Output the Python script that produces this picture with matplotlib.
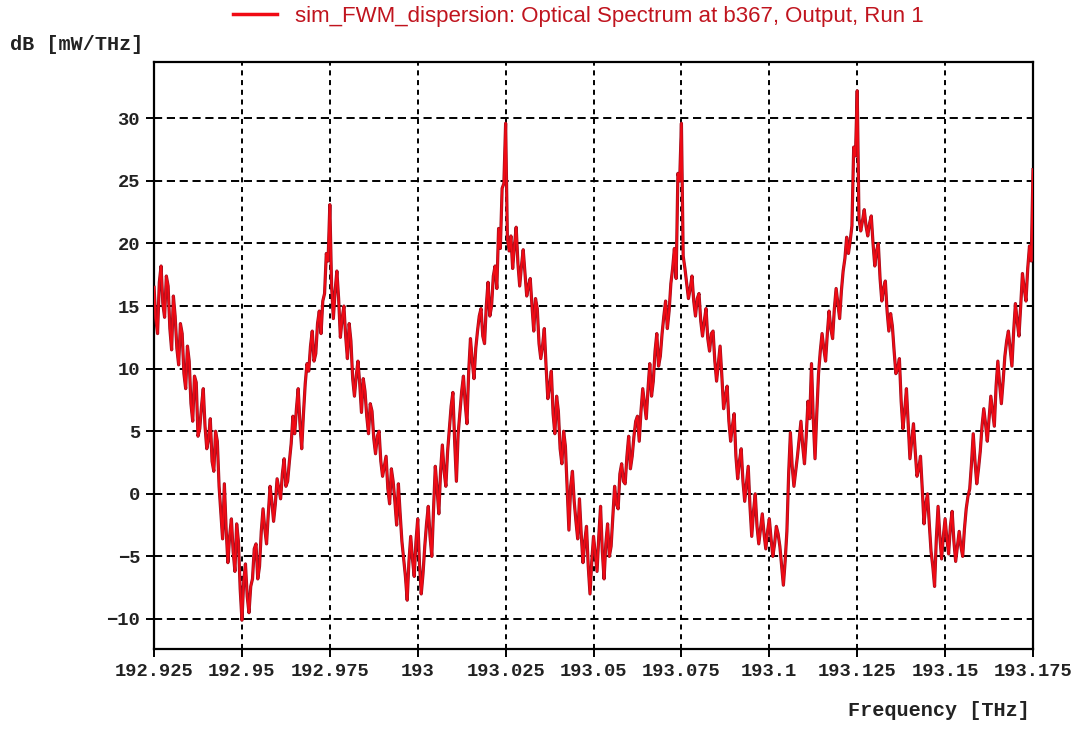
import numpy as np
import matplotlib
matplotlib.use('Agg')
import matplotlib.pyplot as plt

# optical spectrum, 1 GHz samples from 192.925 THz up to 193.175 THz
f_start = 192.925
f_stop = 193.175
power_db = [
    16.5, 12.8, 18.2, 14.1, 16.6, 11.5, 14.2, 10.3, 12.8, 8.4,
    10.6, 5.8, 8.9, 5.2, 8.4, 3.6, 6.0, 1.8, 4.2, -1.5,
    0.8, -5.5, -2.0, -6.2, -3.8, -10.1, -5.6, -9.5, -6.8, -4.0,
    -5.8, -1.2, -4.0, 0.6, -2.2, 1.2, -0.4, 2.8, 1.0, 4.0,
    4.8, 8.4, 3.6, 8.8, 9.8, 13.0, 11.2, 14.6, 15.4, 19.2,
    23.1, 14.0, 17.8, 12.5, 15.0, 10.8, 12.2, 7.8, 10.6, 6.5,
    8.2, 4.8, 6.6, 3.2, 5.0, 1.4, 3.0, -0.8, 1.0, -2.5,
    -1.6, -5.2, -8.5, -3.4, -6.6, -2.0, -8.0, -4.2, -1.0, -5.0,
    2.2, -1.6, 3.9, 0.6, 5.2, 8.1, 1.0, 6.5, 9.4, 5.6,
    12.4, 9.2, 13.0, 14.8, 12.0, 16.9, 15.0, 18.2, 21.2, 24.4,
    29.6, 19.4, 18.0, 21.3, 16.6, 19.5, 15.8, 17.2, 13.0, 14.8,
    10.8, 13.2, 7.6, 9.8, 4.8, 6.6, 2.4, 3.8, -2.9, 1.8,
    -2.2, -0.4, -5.5, -2.6, -8.0, -3.4, -6.2, -1.0, -6.8, -2.4,
    -4.2, 0.6, -1.2, 2.4, 0.8, 4.6, 3.0, 5.8, 4.2, 8.4,
    6.0, 10.4, 9.0, 12.8, 11.0, 14.2, 13.2, 16.8, 19.6, 25.6,
    29.6, 18.0, 15.6, 17.4, 14.2, 16.0, 12.6, 14.8, 11.4, 13.0,
    9.0, 11.8, 6.8, 8.6, 4.2, 6.4, 1.2, 3.6, -0.6, 2.2,
    -3.4, 0.0, -4.0, -1.6, -4.4, -2.0, -5.0, -2.6, -4.2, -7.3,
    -3.0, 4.9, 0.6, 3.0, 5.8, 2.4, 7.4, 10.4, 2.8, 9.6,
    12.8, 10.6, 14.6, 12.4, 16.4, 14.0, 17.8, 20.5, 20.2, 27.7,
    32.2, 21.0, 22.7, 20.6, 22.2, 18.2, 20.0, 15.4, 17.0, 13.0,
    13.4, 9.6, 10.8, 5.2, 8.4, 2.8, 5.6, 1.4, 3.0, -2.4,
    0.0, -4.6, -7.4, -1.0, -5.2, -2.0, -4.8, -1.4, -5.4, -3.0,
    -5.0, -1.2, 0.4, 4.8, 0.8, 3.4, 6.8, 4.2, 7.8, 5.4,
    10.6, 7.2, 11.0, 13.0, 10.2, 15.2, 12.6, 17.6, 15.4, 19.8,
    25.9,
]
# the samples that fall half way between the ones above
power_db_mid = [
    14.0, 16.9, 15.2, 17.4, 13.2, 15.8, 11.6, 13.6, 9.6, 11.8,
    7.2, 9.4, 4.6, 7.0, 5.4, 4.4, 2.6, 5.0, 0.6, -3.6,
    -2.8, -3.4, -4.6, -2.4, -7.6, -7.0, -8.2, -7.4, -4.4, -6.8,
    -3.0, -2.8, -1.6, -0.6, -0.8, 0.4, 1.6, 0.6, 2.6, 6.2,
    6.8, 5.6, 6.4, 10.4, 11.8, 10.6, 13.6, 12.8, 16.0, 18.6,
    16.6, 16.2, 15.6, 14.0, 12.6, 13.6, 9.2, 9.4, 8.8, 9.2,
    6.2, 7.2, 4.4, 4.6, 2.6, 2.2, 0.4, 2.0, -0.6, 0.8,
    -3.8, -6.6, -5.4, -5.2, -3.8, -5.6, -6.4, -2.4, -3.4, -1.2,
    0.4, 1.8, 1.8, 3.4, 7.0, 4.2, 4.8, 8.2, 7.2, 9.8,
    10.6, 11.6, 14.2, 12.6, 15.0, 14.2, 17.4, 16.4, 19.6, 24.8,
    20.4, 20.6, 19.8, 18.4, 18.2, 17.6, 16.6, 15.0, 15.6, 12.0,
    11.8, 10.2, 8.6, 6.4, 7.8, 3.6, 5.0, 0.4, 0.6, -0.6,
    -3.6, -3.2, -3.8, -5.8, -5.4, -4.8, -3.4, -4.6, -4.0, -5.0,
    -1.8, -0.8, 1.6, 1.0, 3.0, 2.0, 4.6, 6.2, 6.6, 7.2,
    8.4, 7.8, 11.4, 10.2, 12.8, 15.4, 14.6, 18.0, 17.2, 25.0,
    19.0, 16.8, 16.4, 15.4, 15.6, 13.8, 13.8, 12.4, 12.8, 10.6,
    10.4, 9.4, 7.8, 5.8, 5.4, 3.0, 2.6, 1.0, 0.8, -1.0,
    -1.4, -2.6, -2.8, -3.2, -3.0, -3.6, -4.0, -3.2, -5.8, -5.4,
    1.6, 2.2, 1.8, 4.4, 3.8, 4.6, 6.0, 6.0, 6.4, 11.4,
    11.6, 12.8, 13.2, 14.8, 15.2, 16.2, 18.8, 19.2, 21.4, 27.0,
    22.0, 21.8, 21.4, 21.6, 20.0, 19.4, 17.2, 16.4, 14.6, 14.4,
    11.4, 10.0, 7.4, 6.6, 5.6, 4.2, 3.4, 2.0, 0.4, -0.8,
    -2.4, -5.8, -3.6, -3.4, -3.4, -3.6, -2.6, -3.8, -4.2, -4.2,
    -2.8, -0.2, 2.4, 2.6, 2.0, 5.4, 5.6, 6.0, 6.6, 8.6,
    8.8, 9.0, 12.2, 11.6, 13.0, 13.8, 15.0, 16.4, 18.0, 18.6,
]

x_ticks = [192.925, 192.95, 192.975, 193.0, 193.025, 193.05, 193.075, 193.1, 193.125, 193.15, 193.175]
x_labels = ['192.925', '192.95', '192.975', '193', '193.025', '193.05', '193.075', '193.1', '193.125', '193.15', '193.175']
y_ticks = [-10, -5, 0, 5, 10, 15, 20, 25, 30]

trace_name = 'sim_FWM_dispersion: Optical Spectrum at b367, Output, Run 1'

# merge both sample sets into one trace
power = np.empty(len(power_db) + len(power_db_mid))
power[0::2] = power_db
power[1::2] = power_db_mid
freq = np.linspace(f_start, f_stop, len(power))

mono = 'Liberation Mono'
ink = '#222222'

fig = plt.figure(figsize=(10.81, 7.29), dpi=100)
ax = fig.add_axes([0.1425, 0.1097, 0.8131, 0.8053])

# dark edge under a bright red core
ax.plot(freq, power, color='#9a1020', lw=2.3, zorder=3)
line, = ax.plot(freq, power, color='#f00a14', lw=1.4, zorder=4)

ax.set_xlim(f_start, f_stop)
ax.set_ylim(-12.4, 34.5)
ax.set_xticks(x_ticks)
ax.set_xticklabels(x_labels)
ax.set_yticks(y_ticks)

ax.xaxis.grid(True, color='black', linestyle=(0, (2.6, 2.4)), lw=1.4, zorder=1)
ax.yaxis.grid(True, color='black', linestyle=(0, (4.2, 2.4)), lw=1.4, zorder=1)
for s in ax.spines.values():
    s.set_linewidth(1.6)
ax.tick_params(direction='out', length=6, width=1.4, pad=4)
for lab in ax.get_xticklabels() + ax.get_yticklabels():
    lab.set_fontfamily(mono)
    lab.set_fontweight('bold')
    lab.set_fontsize(13.5)
    lab.set_color(ink)

# axis captions sit outside the plot box
fig.text(10 / 1081, 1 - 44 / 729, 'dB [mW/THz]', family=mono, weight='bold',
         fontsize=14.5, color=ink, ha='left', va='center')
fig.text(1030 / 1081, 1 - 710 / 729, 'Frequency [THz]', family=mono, weight='bold',
         fontsize=14.5, color=ink, ha='right', va='center')

leg = fig.legend([line], [trace_name], loc='center', bbox_to_anchor=(0.535, 0.978),
                 frameon=False, handlelength=2.0, handletextpad=0.8, labelcolor='#c0141e',
                 prop={'family': 'Liberation Sans', 'size': 16})
leg.get_lines()[0].set_linewidth(2.5)

fig.savefig('out.png', dpi=100)
